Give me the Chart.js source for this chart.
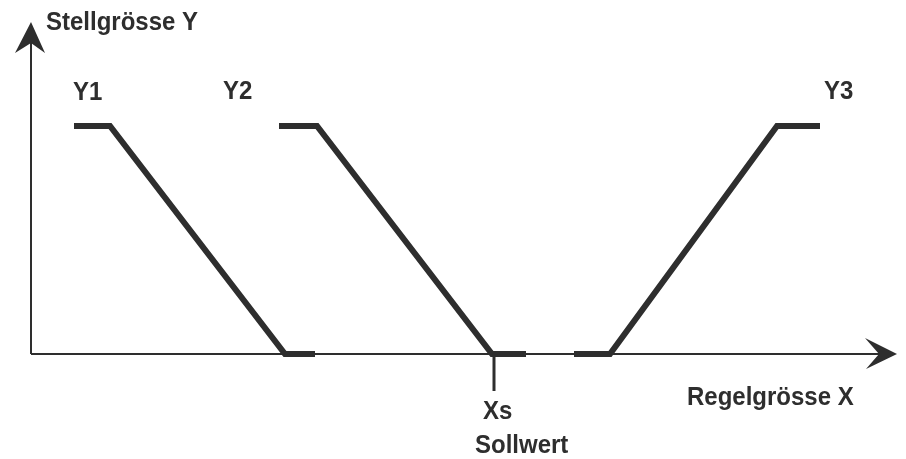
<!DOCTYPE html>
<html>
<head>
<meta charset="utf-8">
<script src="https://cdn.jsdelivr.net/npm/chart.js@4.4.0/dist/chart.umd.min.js"></script>
<style>
  html, body { margin: 0; padding: 0; background: #ffffff; }
  #wrap { width: 906px; height: 459px; position: relative; }
</style>
</head>
<body>
<div id="wrap"><canvas id="c" width="906" height="459"></canvas></div>
<script>
// ---- data (x: Regelgrösse X, y: Stellgrösse Y, 0 = low level, 1 = high level) ----
const categories = ['Y1', 'Y2', 'Y3'];
const y1X = [43, 79, 254, 284];
const y1Y = [1, 1, 0, 0];
const y2X = [248, 286, 461, 495];
const y2Y = [1, 1, 0, 0];
const y3X = [543, 579, 746, 789];
const y3Y = [0, 0, 1, 1];
const setpointX = 463;            // Xs (Sollwert)
const xAxisEnd = 866;
const yAxisEnd = 1.456;
const xAxisTitle = 'Regelgrösse X';
const yAxisTitle = 'Stellgrösse Y';
const setpointLabels = ['Xs', 'Sollwert'];

const ink = '#2e2e2e';
const toPts = (xs, ys) => xs.map((x, i) => ({ x: x, y: ys[i] }));
const seriesX = [y1X, y2X, y3X];
const seriesY = [y1Y, y2Y, y3Y];

const datasets = categories.map((name, i) => ({
  label: name,
  data: toPts(seriesX[i], seriesY[i]),
  showLine: true,
  borderColor: ink,
  borderWidth: 6,
  pointRadius: 0,
  borderCapStyle: 'butt',
  borderJoinStyle: 'miter',
  tension: 0
}));
// axes as lines
datasets.push({ label: 'xaxis', data: [{ x: 0, y: 0 }, { x: xAxisEnd - 10, y: 0 }], showLine: true, borderColor: ink, borderWidth: 2, pointRadius: 0, order: 5 });
datasets.push({ label: 'yaxis', data: [{ x: 0, y: 0 }, { x: 0, y: yAxisEnd - 0.08 }], showLine: true, borderColor: ink, borderWidth: 2, pointRadius: 0, order: 5 });

const decor = {
  id: 'decor',
  afterDatasetsDraw(chart) {
    const { ctx, scales: { x, y } } = chart;
    const ox = x.getPixelForValue(0), oy = y.getPixelForValue(0);
    const xe = x.getPixelForValue(xAxisEnd), ye = y.getPixelForValue(yAxisEnd);
    ctx.save();
    ctx.strokeStyle = ink;
    ctx.fillStyle = ink;
    // y arrow (filled, barbed)
    ctx.beginPath();
    ctx.moveTo(ox, ye);
    ctx.lineTo(ox + 14, ye + 31);
    ctx.lineTo(ox, ye + 21);
    ctx.lineTo(ox - 16, ye + 31);
    ctx.closePath();
    ctx.fill();
    // x arrow (filled, barbed)
    ctx.beginPath();
    ctx.moveTo(xe, oy);
    ctx.lineTo(xe - 32, oy - 16);
    ctx.lineTo(xe - 18, oy);
    ctx.lineTo(xe - 31, oy + 15);
    ctx.closePath();
    ctx.fill();
    // setpoint tick
    const sx = x.getPixelForValue(setpointX);
    ctx.lineWidth = 3;
    ctx.lineCap = 'butt';
    ctx.beginPath();
    ctx.moveTo(sx, oy);
    ctx.lineTo(sx, oy + 37);
    ctx.stroke();
    // texts
    ctx.font = 'bold 24px "Liberation Sans", Arial, sans-serif';
    ctx.textAlign = 'left';
    ctx.textBaseline = 'alphabetic';
    const vs = 1.1;
    const txt = (s, px, py) => {
      ctx.save();
      ctx.translate(px, py);
      ctx.scale(1, vs);
      ctx.fillText(s, 0, 0);
      ctx.restore();
    };
    txt(yAxisTitle, ox + 15, ye + 8);
    txt(xAxisTitle, x.getPixelForValue(656), oy + 51);
    txt(categories[0], x.getPixelForValue(y1X[0]) - 1, y.getPixelForValue(1) - 26);
    txt(categories[1], x.getPixelForValue(y2X[0]) - 56, y.getPixelForValue(1) - 27);
    txt(categories[2], x.getPixelForValue(y3X[3]) + 4, y.getPixelForValue(1) - 27);
    txt(setpointLabels[0], sx - 11, oy + 65);
    txt(setpointLabels[1], sx - 19, oy + 99);
    ctx.restore();
  }
};

new Chart(document.getElementById('c'), {
  type: 'scatter',
  data: { datasets: datasets },
  options: {
    responsive: false,
    animation: false,
    devicePixelRatio: 1,
    layout: { padding: 0 },
    plugins: { legend: { display: false }, tooltip: { enabled: false } },
    scales: {
      x: { type: 'linear', min: -31, max: 875, display: false },
      y: { type: 'linear', min: -105 / 228, max: 354 / 228, display: false }
    }
  },
  plugins: [decor]
});
</script>
</body>
</html>
